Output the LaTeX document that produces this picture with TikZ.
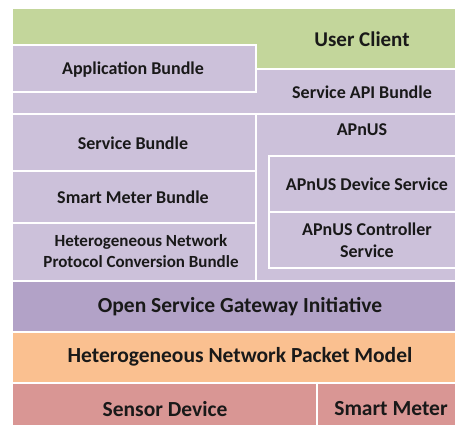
\documentclass[tikz,border=0pt]{standalone}
\usepackage{fontspec}
\setmainfont{Carlito}
\usetikzlibrary{positioning}
\definecolor{green}{RGB}{195,214,155}
\definecolor{lilac}{RGB}{204,193,218}
\definecolor{violet}{RGB}{178,162,199}
\definecolor{peach}{RGB}{250,192,144}
\definecolor{rose}{RGB}{217,150,148}
\definecolor{ink}{RGB}{25,25,25}

\begin{document}
\begin{tikzpicture}[x=1pt,y=-1pt,font=\bfseries\fontsize{18}{21.5}\selectfont,text=ink]
\tikzset{layer/.style={draw=white,line width=1.6pt},
  lbl/.style={align=center,inner sep=0pt},
  big/.style={font=\bfseries\fontsize{21.5}{24}\selectfont}}
\useasboundingbox (0,0) rectangle (455,425);
\clip (0,0) rectangle (455,425);
% upper stack
\fill[layer,fill=green] (12,8)--(462,8)--(462,69)--(256,69)--(256,45)--(12,45)--cycle;
\fill[layer,fill=lilac] (12,45) rectangle (256,92);
\fill[layer,fill=lilac] (256,69)--(462,69)--(462,114)--(12,114)--(12,92)--(256,92)--cycle;
\fill[layer,fill=lilac] (12,114) rectangle (256,171);
\fill[layer,fill=lilac] (12,171) rectangle (256,223);
\fill[layer,fill=lilac] (12,223) rectangle (256,281);
\fill[layer,fill=lilac] (256,114) rectangle (462,281);
\fill[layer,fill=lilac] (269,156) rectangle (462,212);
\fill[layer,fill=lilac] (269,212) rectangle (462,268);
% lower stack
\fill[layer,fill=violet] (12,281) rectangle (462,332);
\fill[layer,fill=peach] (12,332) rectangle (462,383);
\fill[layer,fill=rose] (12,383) rectangle (317,432);
\fill[layer,fill=rose] (317,383) rectangle (462,432);
% labels
\node[lbl,font=\bfseries\fontsize{21}{24}\selectfont] (user) at (362,39) {User Client};
\node[lbl] (app) at (133,70) {Application Bundle};
\node[lbl] (api) at (362,92) {Service API Bundle};
\node[lbl] (srv) at (133,143) {Service Bundle};
\node[lbl] (meterb) at (133,197) {Smart Meter Bundle};
\node[lbl,font=\bfseries\fontsize{17}{21.5}\selectfont] (conv) at (141,251) {Heterogeneous Network\\Protocol Conversion Bundle};
\node[lbl] (apnus) at (362,130) {APnUS};
\node[lbl] (dev) at (367,184) {APnUS Device Service};
\node[lbl] (ctrl) at (367,240) {APnUS Controller\\Service};
\node[lbl,big] (osgi) at (240,307) {Open Service Gateway Initiative};
\node[lbl,big] (packet) at (240,357) {Heterogeneous Network Packet Model};
\node[lbl,big] (sensor) at (165,409) {Sensor Device};
\node[lbl,big] (meter) at (391,409) {Smart Meter};
\end{tikzpicture}
\end{document}
